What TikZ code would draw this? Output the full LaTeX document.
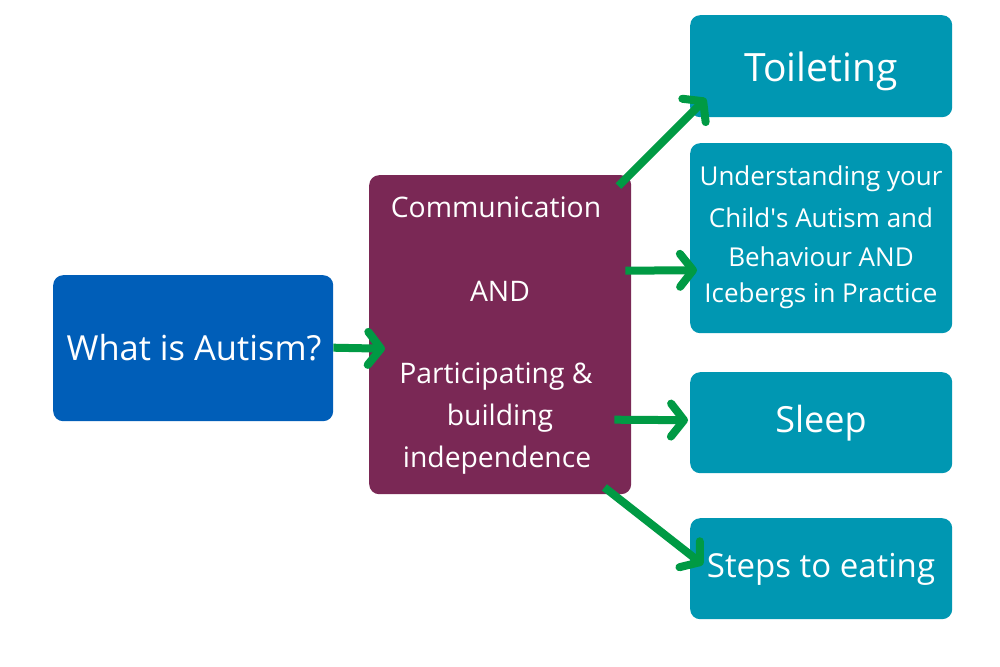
\documentclass[tikz,border=0pt]{standalone}
\usepackage{fontspec}
\setmainfont{Open Sans}
\usetikzlibrary{arrows.meta,calc}
\definecolor{nhsblue}{HTML}{005EB8}
\definecolor{plum}{HTML}{7A2855}
\definecolor{tealbox}{HTML}{0097B2}
\definecolor{arrowgreen}{HTML}{009A44}
\begin{document}
\begin{tikzpicture}[x=1pt,y=-1pt,
  box/.style={draw=none,rounded corners=10pt,text=white,align=center,inner sep=0pt,anchor=north west},
  conn/.style={draw=arrowgreen,line width=8pt,-{Straight Barb[length=13pt,width=33pt,round]}}]
\useasboundingbox (0,0) rectangle (1000,666);
\fill[white] (0,0) rectangle (1000,666);
\node[box,fill=nhsblue,minimum width=280pt,minimum height=146pt] (what) at (53,275) {};
\node[text=white,font=\fontsize{34.5}{40}\selectfont] at (194,348) {What is Autism?};
\node[box,fill=plum,minimum width=262pt,minimum height=319pt] (comm) at (369,175) {};
\begin{scope}[every node/.style={text=white,font=\fontsize{28.3}{33}\selectfont}]
\node at (496,207) {Communication};
\node at (500,291) {AND};
\node at (496,377) {Participating \&};
\node at (500,418) {building};
\node at (497,460) {independence};
\end{scope}
\node[box,fill=tealbox,minimum width=262pt,minimum height=102pt] (toil) at (690,15) {};
\node[text=white,font=\fontsize{39}{45}\selectfont] at (821,71) {Toileting};
\node[box,fill=tealbox,minimum width=262pt,minimum height=190pt] (under) at (690,143) {};
\begin{scope}[every node/.style={text=white,font=\fontsize{26}{31}\selectfont}]
\node at (821,179) {Understanding your};
\node at (821,218) {Child\textquotesingle s Autism and};
\node at (821,257) {Behaviour AND};
\node at (821,296) {Icebergs in Practice};
\end{scope}
\node[box,fill=tealbox,minimum width=262pt,minimum height=101pt] (sleep) at (690,372) {};
\node[text=white,font=\fontsize{36}{42}\selectfont] at (821,423) {Sleep};
\node[box,fill=tealbox,minimum width=262pt,minimum height=101pt] (eat) at (690,518) {};
\node[text=white,font=\fontsize{33}{39}\selectfont] at (821,569) {Steps to eating};
\draw[conn] ($(what.east)+(0,-0.5)$) -- ($(comm.west)+(16,14)$);
\draw[conn] ($(comm.north east)+(-13,11)$) -- ($(toil.south west)+(16,-19)$);
\draw[conn] ($(comm.east)+(-6,-64)$) -- ($(under.west)+(7,32)$);
\draw[conn] ($(comm.east)+(-17,85)$) -- ($(sleep.west)+(-2,-2.5)$);
\draw[conn] ($(comm.south east)+(-27,-7)$) -- ($(eat.west)+(13,-4)$);
\end{tikzpicture}
\end{document}
